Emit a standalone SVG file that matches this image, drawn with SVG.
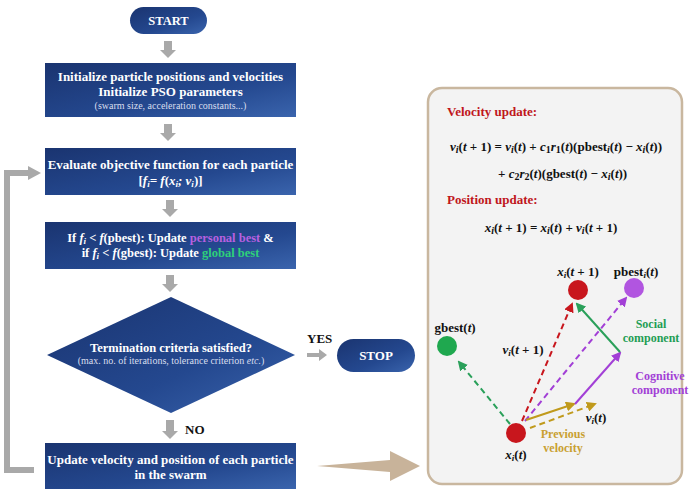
<svg xmlns="http://www.w3.org/2000/svg" width="694" height="500" viewBox="0 0 694 500">
<defs>
<linearGradient id="bg" x1="0" y1="0" x2="1" y2="1"><stop offset="0" stop-color="#1a3470"/><stop offset="0.6" stop-color="#24488f"/><stop offset="1" stop-color="#3a64ad"/></linearGradient>
<marker id="mg" viewBox="0 0 10 10" refX="8" refY="5" markerWidth="5" markerHeight="5" orient="auto"><path d="M0,0L10,5L0,10z" fill="#2aa05a"/></marker>
<marker id="mr" viewBox="0 0 10 10" refX="8" refY="5" markerWidth="5" markerHeight="5" orient="auto"><path d="M0,0L10,5L0,10z" fill="#c8161d"/></marker>
<marker id="mp" viewBox="0 0 10 10" refX="8" refY="5" markerWidth="5" markerHeight="5" orient="auto"><path d="M0,0L10,5L0,10z" fill="#a23fd6"/></marker>
<marker id="my" viewBox="0 0 10 10" refX="8" refY="5" markerWidth="5" markerHeight="5" orient="auto"><path d="M0,0L10,5L0,10z" fill="#c09a1c"/></marker>
</defs>
<style>
.n{fill:url(#bg)}
.t{font-family:"Liberation Serif",serif;font-weight:bold;fill:#fff;text-anchor:middle}
.s{font-family:"Liberation Serif",serif;fill:#d8deee;text-anchor:middle;font-size:10px}
.m{font-family:"Liberation Serif",serif;font-weight:bold;font-size:13px;fill:#111}
.i{font-style:italic}
.g{fill:#a9a9a9}
.d{stroke-dasharray:6,4}
</style>
<rect width="694" height="500" fill="#fff"/>
<g id="start"><rect class="n" x="130" y="7" width="77" height="27" rx="13.5"/><text class="t" x="168.5" y="25" font-size="12.5">START</text></g>
<g id="init"><rect class="n" x="45" y="63" width="251" height="54"/><text class="t" x="170.5" y="81" font-size="13">Initialize particle positions and velocities</text><text class="t" x="170.5" y="96" font-size="13">Initialize PSO parameters</text><text class="s" x="170.5" y="109">(swarm size, acceleration constants...)</text></g>
<g id="eval"><rect class="n" x="45" y="148" width="251" height="47"/><text class="t" x="170.5" y="169" font-size="13">Evaluate objective function for each particle</text><text class="t" x="170.5" y="185" font-size="13" font-weight="normal">[<tspan class="i">f<tspan font-size="9" dy="2">i</tspan><tspan dy="-2">= f</tspan></tspan>(<tspan class="i">x<tspan font-size="9" dy="2">i</tspan><tspan dy="-2">; v</tspan><tspan font-size="9" dy="2">i</tspan></tspan><tspan dy="-2">)]</tspan></text></g>
<g id="best"><rect class="n" x="45" y="222" width="251" height="47"/><text class="t" x="170.5" y="242" font-size="12.5">If <tspan class="i">f<tspan font-size="9" dy="2">i</tspan></tspan><tspan dy="-2"> &lt; </tspan><tspan class="i">f</tspan>(pbest): Update <tspan fill="#b760e0">personal best</tspan> &amp;</text><text class="t" x="170.5" y="257" font-size="12.5">if <tspan class="i">f<tspan font-size="9" dy="2">i</tspan></tspan><tspan dy="-2"> &lt; </tspan><tspan class="i">f</tspan>(gbest): Update <tspan fill="#2ed17a">global best</tspan></text></g>
<g id="term"><polygon class="n" points="171,297 295,355 171,413 47,355"/><text class="t" x="171" y="352" font-size="12.5">Termination criteria satisfied?</text><text class="s" x="171" y="364" font-size="9.5">(max. no. of iterations, tolerance criterion <tspan class="i">etc.</tspan>)</text></g>
<g id="stop"><rect class="n" x="337" y="339" width="78" height="33" rx="16.5"/><text class="t" x="376" y="360" font-size="13">STOP</text></g>
<g id="update"><rect class="n" x="45" y="443" width="251" height="46"/><text class="t" x="170.5" y="464" font-size="13">Update velocity and position of each particle</text><text class="t" x="170.5" y="479" font-size="13">in the swarm</text></g>
<g id="connectors">
<path class="g" d="M164,41h8v9h4l-8,8l-8,-8h4z"/>
<path class="g" d="M164,124h8v9h4l-8,8l-8,-8h4z"/>
<path class="g" d="M166,200h8v9h4l-8,8l-8,-8h4z"/>
<path class="g" d="M166,275h8v9h4l-8,8l-8,-8h4z"/>
<path class="g" d="M166,420h8v11h4l-8,8l-8,-8h4z"/>
<path class="g" d="M307,353h12v-4l8,6l-8,6v-4h-12z"/>
<path d="M34,470H7V173H30" fill="none" stroke="#a9a9a9" stroke-width="6"/>
<path class="g" d="M28,166l13,7l-13,7z"/>
<path d="M317,466L390,460V451L420,466L390,481V472z" fill="#c8b39a"/>
<text class="m" x="307" y="343">YES</text>
<text class="m" x="185" y="434">NO</text>
</g>
<g id="panel">
<rect x="428" y="88" width="254" height="396" rx="14" fill="#f3f3f3" stroke="#c9b79f" stroke-width="2.5"/>
<text x="447" y="116" font-family="Liberation Serif,serif" font-weight="bold" font-size="13" fill="#c0161c">Velocity update:</text>
<text class="m" x="556" y="151" text-anchor="middle" font-size="14.5"><tspan class="i">v<tspan font-size="10" dy="2">i</tspan></tspan><tspan dy="-2">(</tspan><tspan class="i">t</tspan> + 1) = <tspan class="i">v<tspan font-size="10" dy="2">i</tspan></tspan><tspan dy="-2">(</tspan><tspan class="i">t</tspan>) + <tspan class="i">c</tspan><tspan font-size="10" dy="2">1</tspan><tspan class="i" dy="-2">r</tspan><tspan font-size="10" dy="2">1</tspan><tspan dy="-2">(</tspan><tspan class="i">t</tspan>)(pbest<tspan font-size="10" dy="2" class="i">i</tspan><tspan dy="-2">(</tspan><tspan class="i">t</tspan>) − <tspan class="i">x<tspan font-size="10" dy="2">i</tspan></tspan><tspan dy="-2">(</tspan><tspan class="i">t</tspan>))</text>
<text class="m" x="498" y="178" font-size="14.5">+ <tspan class="i">c</tspan><tspan font-size="10" dy="2">2</tspan><tspan class="i" dy="-2">r</tspan><tspan font-size="10" dy="2">2</tspan><tspan dy="-2">(</tspan><tspan class="i">t</tspan>)(gbest(<tspan class="i">t</tspan>) − <tspan class="i">x<tspan font-size="10" dy="2">i</tspan></tspan><tspan dy="-2">(</tspan><tspan class="i">t</tspan>))</text>
<text x="447" y="204" font-family="Liberation Serif,serif" font-weight="bold" font-size="13" fill="#c0161c">Position update:</text>
<text class="m" x="551" y="232" text-anchor="middle" font-size="14.5"><tspan class="i">x<tspan font-size="10" dy="2">i</tspan></tspan><tspan dy="-2">(</tspan><tspan class="i">t</tspan> + 1) = <tspan class="i">x<tspan font-size="10" dy="2">i</tspan></tspan><tspan dy="-2">(</tspan><tspan class="i">t</tspan>) + <tspan class="i">v<tspan font-size="10" dy="2">i</tspan></tspan><tspan dy="-2">(</tspan><tspan class="i">t</tspan> + 1)</text>
<g fill="none" stroke-width="2">
<line class="d" x1="510" y1="424" x2="459" y2="362" stroke="#2aa05a" marker-end="url(#mg)"/>
<line class="d" x1="522" y1="421" x2="572" y2="304" stroke="#c8161d" marker-end="url(#mr)"/>
<line class="d" x1="525" y1="421" x2="626" y2="298" stroke="#a23fd6" marker-end="url(#mp)"/>
<line class="d" x1="530" y1="428" x2="595" y2="404" stroke="#c09a1c" marker-end="url(#my)"/>
<line x1="526" y1="420" x2="574" y2="404" stroke="#c09a1c" marker-end="url(#my)"/>
<line x1="575" y1="404" x2="620" y2="353" stroke="#a23fd6" marker-end="url(#mp)"/>
<line x1="620" y1="352" x2="577" y2="304" stroke="#2aa05a" marker-end="url(#mg)"/>
</g>
<circle cx="516" cy="433" r="10" fill="#c8161d"/>
<circle cx="578" cy="290" r="10" fill="#c8161d"/>
<circle cx="634" cy="288" r="10" fill="#b155e0"/>
<circle cx="447" cy="346" r="10" fill="#1fa84f"/>
<text class="m" x="455" y="332" text-anchor="middle">gbest(<tspan class="i">t</tspan>)</text>
<text class="m" x="523" y="354" text-anchor="middle"><tspan class="i">v<tspan font-size="9" dy="2">i</tspan></tspan><tspan dy="-2">(</tspan><tspan class="i">t</tspan> + 1)</text>
<text class="m" x="578" y="276" text-anchor="middle"><tspan class="i">x<tspan font-size="9" dy="2">i</tspan></tspan><tspan dy="-2">(</tspan><tspan class="i">t</tspan> + 1)</text>
<text class="m" x="636" y="276" text-anchor="middle">pbest<tspan class="i" font-size="9" dy="2">i</tspan><tspan dy="-2">(</tspan><tspan class="i">t</tspan>)</text>
<text class="m" x="596" y="422" text-anchor="middle"><tspan class="i">v<tspan font-size="9" dy="2">i</tspan></tspan><tspan dy="-2">(</tspan><tspan class="i">t</tspan>)</text>
<text class="m" x="516" y="459" text-anchor="middle"><tspan class="i">x<tspan font-size="9" dy="2">i</tspan></tspan><tspan dy="-2">(</tspan><tspan class="i">t</tspan>)</text>
<g font-family="Liberation Serif,serif" font-weight="bold" font-size="12" text-anchor="middle">
<text x="651" y="328" fill="#1f9e55">Social</text><text x="651" y="342" fill="#1f9e55">component</text>
<text x="660" y="380" fill="#a23fd6">Cognitive</text><text x="660" y="394" fill="#a23fd6">component</text>
<text x="563" y="438" fill="#c9a031">Previous</text><text x="563" y="452" fill="#c9a031">velocity</text>
</g>
</g>
</svg>
